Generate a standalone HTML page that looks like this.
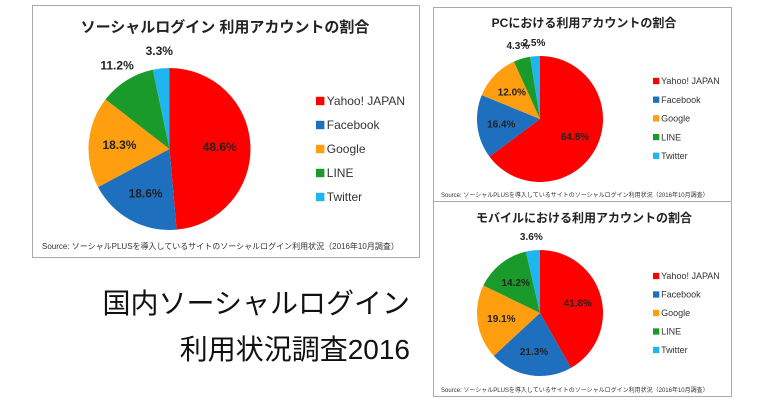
<!DOCTYPE html>
<html><head><meta charset="utf-8"><style>
body{margin:0;width:780px;height:400px;background:#fff;overflow:hidden;font-family:"Liberation Sans","Noto Sans CJK JP",sans-serif}
svg{position:absolute;left:0;top:0}
</style></head><body>
<svg id="c" width="780" height="400">
<rect x="32.5" y="5.5" width="387" height="252" fill="#fff" stroke="#aaa"/>
<rect x="433.5" y="7.5" width="298" height="194" fill="#fff" stroke="#aaa"/>
<rect x="433.5" y="201.5" width="298" height="195" fill="#fff" stroke="#aaa"/>
<text x="225" y="32" text-anchor="middle" font-size="15" font-weight="bold" fill="#222">ソーシャルログイン 利用アカウントの割合</text>
<text x="584" y="27" text-anchor="middle" font-size="12" font-weight="bold" fill="#222">PCにおける利用アカウントの割合</text>
<text x="584" y="222" text-anchor="middle" font-size="12" font-weight="bold" fill="#222">モバイルにおける利用アカウントの割合</text>
<text x="42" y="249" font-size="8" fill="#333">Source: ソーシャルPLUSを導入しているサイトのソーシャルログイン利用状況（2016年10月調査）</text>
<text x="441" y="197" font-size="6" fill="#333">Source: ソーシャルPLUSを導入しているサイトのソーシャルログイン利用状況（2016年10月調査）</text>
<text x="441" y="392" font-size="6" fill="#333">Source: ソーシャルPLUSを導入しているサイトのソーシャルログイン利用状況（2016年10月調査）</text>
<text x="410" y="313" text-anchor="end" font-size="28" fill="#111">国内ソーシャルログイン</text>
<text x="410" y="359" text-anchor="end" font-size="28" fill="#111">利用状況調査2016</text>
</svg>
<script>
const categories=["Yahoo! JAPAN","Facebook","Google","LINE","Twitter"];
const mainValues=[48.6,18.6,18.3,11.2,3.3];
const pcValues=[64.8,16.4,12.0,4.3,2.5];
const mobileValues=[41.8,21.3,19.1,14.2,3.6];
const colors=["#ff0000","#1f6fbf","#ff9f0f","#1b9a2c","#1fb5ef"];
const svg=document.getElementById('c');
const NS="http://www.w3.org/2000/svg";
function mk(tag,attrs){const e=document.createElementNS(NS,tag);for(const k in attrs)e.setAttribute(k,attrs[k]);svg.appendChild(e);return e;}
function pie(name,vals,cx,cy,r,fs,lx,ly,lgap,lfs){
  const tot=vals.reduce((a,b)=>a+b,0);let a0=-Math.PI/2;
  vals.forEach((v,i)=>{
    const a1=a0+v/tot*2*Math.PI;
    const x0=cx+r*Math.cos(a0),y0=cy+r*Math.sin(a0),x1=cx+r*Math.cos(a1),y1=cy+r*Math.sin(a1);
    const large=(a1-a0)>Math.PI?1:0;
    const p=mk('path',{d:`M${cx},${cy}L${x0},${y0}A${r},${r} 0 ${large} 1 ${x1},${y1}Z`,fill:colors[i]});
    
    
    const am=(a0+a1)/2;const out=v<12;const rr=out?r*1.22:r*0.62;
    const t=mk('text',{x:cx+rr*Math.cos(am),y:cy+rr*Math.sin(am)+fs*0.35,'text-anchor':'middle','font-size':fs,'font-weight':'bold',fill:'#222'});
    t.textContent=v.toFixed(1)+'%';
    
    
    a0=a1;
  });
  categories.forEach((c,i)=>{
    const s=mk('rect',{x:lx,y:ly+i*lgap-lfs*0.35,width:lfs*0.7,height:lfs*0.7,fill:colors[i]});
    
    
    const t=mk('text',{x:lx+lfs*0.9,y:ly+i*lgap+lfs*0.35,'font-size':lfs,fill:'#333'});
    t.textContent=c;
    
    
  });
}
pie('main',mainValues,169.5,149,81,12,316,101,24,12);
pie('pc',pcValues,540,119,63,10,653,81,18.7,9);
pie('mobile',mobileValues,540,313,63,10,653,276,18.5,9);
</script>
</body></html>
